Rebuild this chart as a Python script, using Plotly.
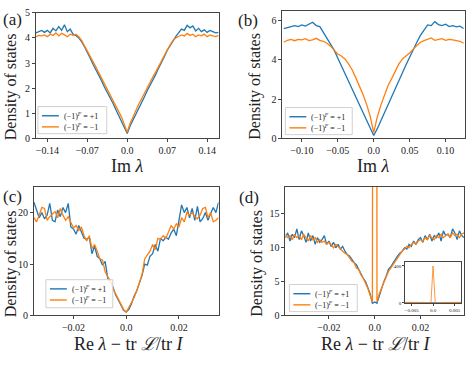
import numpy as np
import plotly.graph_objects as go

BLUE = "#1f77b4"
ORANGE = "#ff7f0e"
FONT = "Liberation Serif"
INK = "#222"

# ---- panel (a) ----
xa = np.round(np.linspace(-0.16, 0.16, 65), 4)
a_plus = [4.20, 4.25, 4.30, 4.22, 4.30, 4.20, 4.38, 4.28, 4.45, 4.30, 4.52, 4.25, 4.35,
          4.15, 4.10, 4.00, 3.85, 3.65, 3.45, 3.20, 2.95, 2.75, 2.50, 2.30, 2.05, 1.85,
          1.60, 1.40, 1.15, 0.90, 0.70, 0.45, 0.20,
          0.50, 0.72, 0.95, 1.18, 1.42, 1.65, 1.90, 2.10, 2.35, 2.55, 2.80, 3.00, 3.25,
          3.50, 3.70, 3.90, 4.05, 4.20, 4.35, 4.30, 4.50, 4.40, 4.48, 4.28, 4.38, 4.25,
          4.32, 4.22, 4.30, 4.25, 4.20, 4.22]
a_minus = [4.05, 4.10, 4.08, 4.12, 4.05, 4.15, 4.10, 4.20, 4.08, 4.18, 4.12, 4.05, 4.15,
           4.10, 4.15, 4.05, 3.90, 3.70, 3.50, 3.30, 3.05, 2.85, 2.62, 2.40, 2.20, 1.98,
           1.75, 1.55, 1.32, 1.08, 0.85, 0.55, 0.25,
           0.60, 0.88, 1.10, 1.35, 1.58, 1.80, 2.02, 2.22, 2.45, 2.65, 2.88, 3.08, 3.30,
           3.52, 3.72, 3.90, 4.00, 4.05, 4.12, 4.08, 4.18, 4.10, 4.15, 4.05, 4.12, 4.08,
           4.15, 4.05, 4.12, 4.08, 4.05, 4.10]

# ---- panel (b) ----
xb = np.round(np.linspace(-0.125, 0.125, 51), 4)
b_plus = [5.60, 5.65, 5.70, 5.75, 5.70, 5.78, 5.72, 5.80, 5.92, 5.75, 5.70, 5.40, 5.10,
          4.80, 4.50, 4.10, 3.70, 3.30, 2.90, 2.50, 2.10, 1.70, 1.30, 0.90, 0.50, 0.15,
          0.50, 0.92, 1.32, 1.72, 2.12, 2.55, 2.95, 3.35, 3.75, 4.15, 4.55, 4.90, 5.25,
          5.50, 5.78, 5.75, 5.95, 5.80, 5.75, 5.82, 5.70, 5.75, 5.68, 5.72, 5.60]
b_minus = [4.90, 5.00, 5.05, 4.98, 5.05, 5.02, 5.08, 4.98, 5.02, 5.10, 5.00, 4.95, 4.85,
           4.70, 4.50, 4.30, 4.20, 4.05, 3.80, 3.50, 3.10, 2.70, 2.25, 1.75, 1.15, 0.30,
           1.10, 1.70, 2.20, 2.70, 3.05, 3.45, 3.80, 4.05, 4.20, 4.35, 4.55, 4.75, 4.90,
           4.98, 5.05, 5.12, 5.00, 5.05, 5.08, 5.00, 5.05, 5.02, 5.00, 4.95, 4.85]

# ---- panel (c) ----
xc = np.round(np.linspace(-0.035, 0.035, 71), 4)
c_plus = [22.0, 20.5, 19.0, 20.0, 18.8, 19.5, 21.8, 18.5, 18.2, 20.5, 19.2, 21.0, 20.0,
          21.8, 17.2, 16.8, 15.8, 17.5, 16.2, 15.0, 14.8, 15.2, 12.0, 13.5, 11.5, 11.0,
          9.8, 10.5, 7.2, 6.5, 5.5, 4.0, 3.0, 2.0, 1.0, 0.7,
          1.2, 2.3, 3.8, 4.8, 6.5, 7.8, 10.0, 9.8, 11.5, 12.0, 13.8, 12.5, 15.0, 14.5,
          15.2, 14.8, 16.0, 16.8, 15.5, 18.8, 21.5, 20.0, 21.0, 19.0, 20.8, 18.5, 21.2,
          18.2, 18.8, 20.0, 18.5, 19.8, 21.0, 20.0, 22.0]
c_minus = [19.0, 18.2, 19.5, 21.0, 20.8, 18.5, 19.2, 19.8, 20.2, 19.0, 20.8, 19.5, 18.5,
           19.2, 18.0, 17.0, 17.5, 16.5, 17.2, 15.5, 14.5, 15.5, 13.0, 13.8, 12.5, 11.0,
           10.8, 8.5, 7.5, 6.8, 5.2, 4.2, 3.2, 2.2, 1.2, 0.6,
           1.5, 2.5, 3.5, 4.8, 6.2, 8.0, 11.0, 11.8, 12.5, 13.8, 12.8, 15.0, 14.8, 15.5,
           15.0, 16.2, 17.5, 16.8, 17.8, 17.2, 19.0, 18.2, 20.0, 19.5, 20.0, 19.2, 18.8,
           19.5, 20.8, 21.0, 19.0, 20.0, 18.2, 18.5, 19.0]

# ---- panel (d) ----
xd = np.round(np.linspace(-0.039, 0.039, 79), 4)
d_plus = [11.5, 12.2, 11.0, 12.0, 11.5, 12.8, 11.2, 12.5, 11.8, 10.8, 12.2, 11.0, 11.8,
          10.5, 11.5, 10.8, 11.2, 11.8, 10.5, 11.0, 10.2, 10.8, 10.0, 10.5, 9.8, 10.2,
          9.5, 9.0, 8.8, 8.2, 7.8, 7.5, 6.8, 6.2, 5.5, 5.0, 4.0, 3.2, 1.8, 2.0,
          1.8, 3.0, 4.2, 5.0, 5.8, 6.8, 7.2, 7.8, 8.2, 8.8, 9.2, 9.5, 10.0, 9.8, 10.5,
          10.2, 11.0, 10.5, 11.2, 11.5, 10.8, 11.8, 11.2, 12.0, 11.0, 11.8, 11.5, 12.2,
          11.0, 12.5, 11.8, 12.0, 11.5, 12.8, 12.2, 11.2, 12.5, 11.8, 11.5]
d_minus = [12.0, 11.5, 11.8, 11.2, 12.0, 11.5, 11.8, 11.2, 12.0, 11.5, 11.0, 11.8, 11.2,
           11.5, 10.8, 11.2, 10.8, 11.0, 10.5, 10.8, 10.5, 10.0, 10.5, 10.2, 9.8, 9.5,
           9.2, 9.0, 8.5, 8.0, 7.8, 7.0, 6.8, 6.0, 5.5, 4.8, 4.0, 3.0, 2.0, 400.0,
           2.0, 3.2, 4.0, 5.0, 5.8, 6.5, 7.0, 7.5, 8.0, 8.5, 9.0, 9.5, 9.8, 10.2, 10.0,
           10.5, 10.8, 10.5, 11.0, 11.2, 11.0, 11.5, 11.2, 11.8, 11.5, 11.2, 11.8, 11.5,
           12.0, 11.5, 11.8, 12.0, 11.5, 12.2, 11.8, 12.0, 11.5, 12.0, 12.2]

# inset of (d)
xi = np.round(np.linspace(-0.0065, 0.0065, 27), 5)
i_plus = [5, 6, 5, 4, 6, 5, 5, 4, 5, 4, 3, 3, 2, 2, 2, 3, 3, 4, 5, 4, 5, 6, 5, 5, 6, 5, 6]
i_minus = [6, 5, 6, 5, 5, 4, 6, 5, 4, 4, 3, 2, 1, 400, 1, 2, 3, 4, 4, 5, 5, 6, 5, 6, 5, 6, 5]

label_plus = "(−1)<sup><i>F</i></sup> = +1"
label_minus = "(−1)<sup><i>F</i></sup> = −1"

W, H = 469, 365

fig = go.Figure()

panels = [("", xa, a_plus, a_minus), ("2", xb, b_plus, b_minus),
          ("3", xc, c_plus, c_minus), ("4", xd, d_plus, d_minus)]
for ax, x, yp, ym in panels:
    fig.add_trace(go.Scatter(x=x, y=yp, mode="lines", name=label_plus, showlegend=False,
                             line=dict(color=BLUE, width=1.3),
                             xaxis="x" + ax, yaxis="y" + ax))
    fig.add_trace(go.Scatter(x=x, y=ym, mode="lines", name=label_minus, showlegend=False,
                             line=dict(color=ORANGE, width=1.3),
                             xaxis="x" + ax, yaxis="y" + ax))

fig.add_trace(go.Scatter(x=xi, y=i_plus, mode="lines", showlegend=False,
                         line=dict(color=BLUE, width=0.8), xaxis="x5", yaxis="y5"))
fig.add_trace(go.Scatter(x=xi, y=i_minus, mode="lines", showlegend=False,
                         line=dict(color=ORANGE, width=0.8), xaxis="x5", yaxis="y5"))

frame = dict(showline=True, mirror=True, linecolor="#444", linewidth=1,
             ticks="outside", ticklen=3, tickcolor="#444", showgrid=False,
             zeroline=False, tickfont=dict(family=FONT, size=10, color=INK))


def px(x0, x1):
    return [x0 / W, x1 / W]


def py(top, bottom):
    return [1 - bottom / H, 1 - top / H]


fig.update_layout(
    width=W, height=H,
    margin=dict(l=0, r=0, t=0, b=0),
    paper_bgcolor="white", plot_bgcolor="white",
    xaxis=dict(frame, domain=px(35, 218), anchor="y", range=[-0.16, 0.16],
               tickvals=[-0.14, -0.07, 0, 0.07, 0.14],
               ticktext=["−0.14", "−0.07", "0.0", "0.07", "0.14"]),
    yaxis=dict(frame, domain=py(7, 137), anchor="x", range=[0, 5],
               tickvals=[0, 1, 2, 3, 4, 5]),
    xaxis2=dict(frame, domain=px(282, 465), anchor="y2", range=[-0.127, 0.127],
                tickvals=[-0.1, -0.05, 0, 0.05, 0.1],
                ticktext=["−0.10", "−0.05", "0.0", "0.05", "0.10"]),
    yaxis2=dict(frame, domain=py(5, 137), anchor="x2", range=[0, 6.5],
                tickvals=[0, 2, 4, 6]),
    xaxis3=dict(frame, domain=px(33, 218), anchor="y3", range=[-0.035, 0.035],
                tickvals=[-0.02, 0, 0.02], ticktext=["−0.02", "0.0", "0.02"]),
    yaxis3=dict(frame, domain=py(187, 320), anchor="x3", range=[0, 25],
                tickvals=[0, 10, 20]),
    xaxis4=dict(frame, domain=px(285, 464), anchor="y4", range=[-0.039, 0.039],
                tickvals=[-0.02, 0, 0.02], ticktext=["−0.02", "0.0", "0.02"]),
    yaxis4=dict(frame, domain=py(187, 320), anchor="x4", range=[0, 19],
                tickvals=[0, 5, 10, 15]),
    xaxis5=dict(frame, domain=px(405, 461), anchor="y5", range=[-0.0065, 0.0065],
                tickvals=[-0.005, 0, 0.005], ticktext=["−0.005", "0.0", "0.005"],
                ticklen=2, tickfont=dict(family=FONT, size=5, color=INK)),
    yaxis5=dict(frame, domain=py(265, 307), anchor="x5", range=[0, 440],
                tickvals=[0, 400], ticklen=2,
                tickfont=dict(family=FONT, size=5, color=INK)),
)

# hand-drawn legends (box, line samples, labels), one per panel
legends = [(37, 106, 104, 132), (285, 352, 105, 133), (45, 112, 283, 312), (289, 357, 288, 316)]
for x0, x1, y0, y1 in legends:
    fig.add_shape(type="rect", xref="paper", yref="paper",
                  x0=x0 / W, x1=x1 / W, y0=1 - y1 / H, y1=1 - y0 / H,
                  line=dict(color="#d0d0d0", width=1), fillcolor="rgba(255,255,255,0.85)")
    for k, (col, lab) in enumerate([(BLUE, label_plus), (ORANGE, label_minus)]):
        yy = y0 + 9.5 + k * 11.5
        fig.add_shape(type="line", xref="paper", yref="paper",
                      x0=(x0 + 4) / W, x1=(x0 + 21) / W, y0=1 - yy / H, y1=1 - yy / H,
                      line=dict(color=col, width=1.4))
        fig.add_annotation(text=lab, x=(x0 + 24) / W, y=1 - yy / H, xref="paper",
                           yref="paper", showarrow=False, xanchor="left", yanchor="middle",
                           font=dict(family=FONT, size=8, color=INK))

# axis titles
im_t = "Im <i>λ</i>"
re_t = "Re <i>λ</i> − tr <i>ℒ</i>/tr <i>I</i>"
for txt, x, y in [(im_t, 127, 165), (im_t, 373, 165), (re_t, 128, 349), (re_t, 375, 349)]:
    fig.add_annotation(text=txt, x=x / W, y=1 - y / H, xref="paper", yref="paper",
                       showarrow=False, xanchor="center", yanchor="middle",
                       font=dict(family=FONT, size=18, color=INK))
for x, y in [(10, 83), (255, 83), (10, 266), (257, 266)]:
    fig.add_annotation(text="Density of states", x=x / W, y=1 - y / H, xref="paper",
                       yref="paper", showarrow=False, textangle=-90,
                       xanchor="center", yanchor="middle",
                       font=dict(family=FONT, size=16, color=INK))

for txt, x, y in [("(a)", 0, 2), ("(b)", 236, 3), ("(c)", 0, 185), ("(d)", 237, 186)]:
    fig.add_annotation(text=txt, x=x / W, y=1 - y / H, xref="paper", yref="paper",
                       showarrow=False, xanchor="left", yanchor="top",
                       font=dict(family=FONT, size=17, color=INK))

fig.write_html("out.html", config={"displayModeBar": False},
               post_script="document.body.style.margin='0px';")
